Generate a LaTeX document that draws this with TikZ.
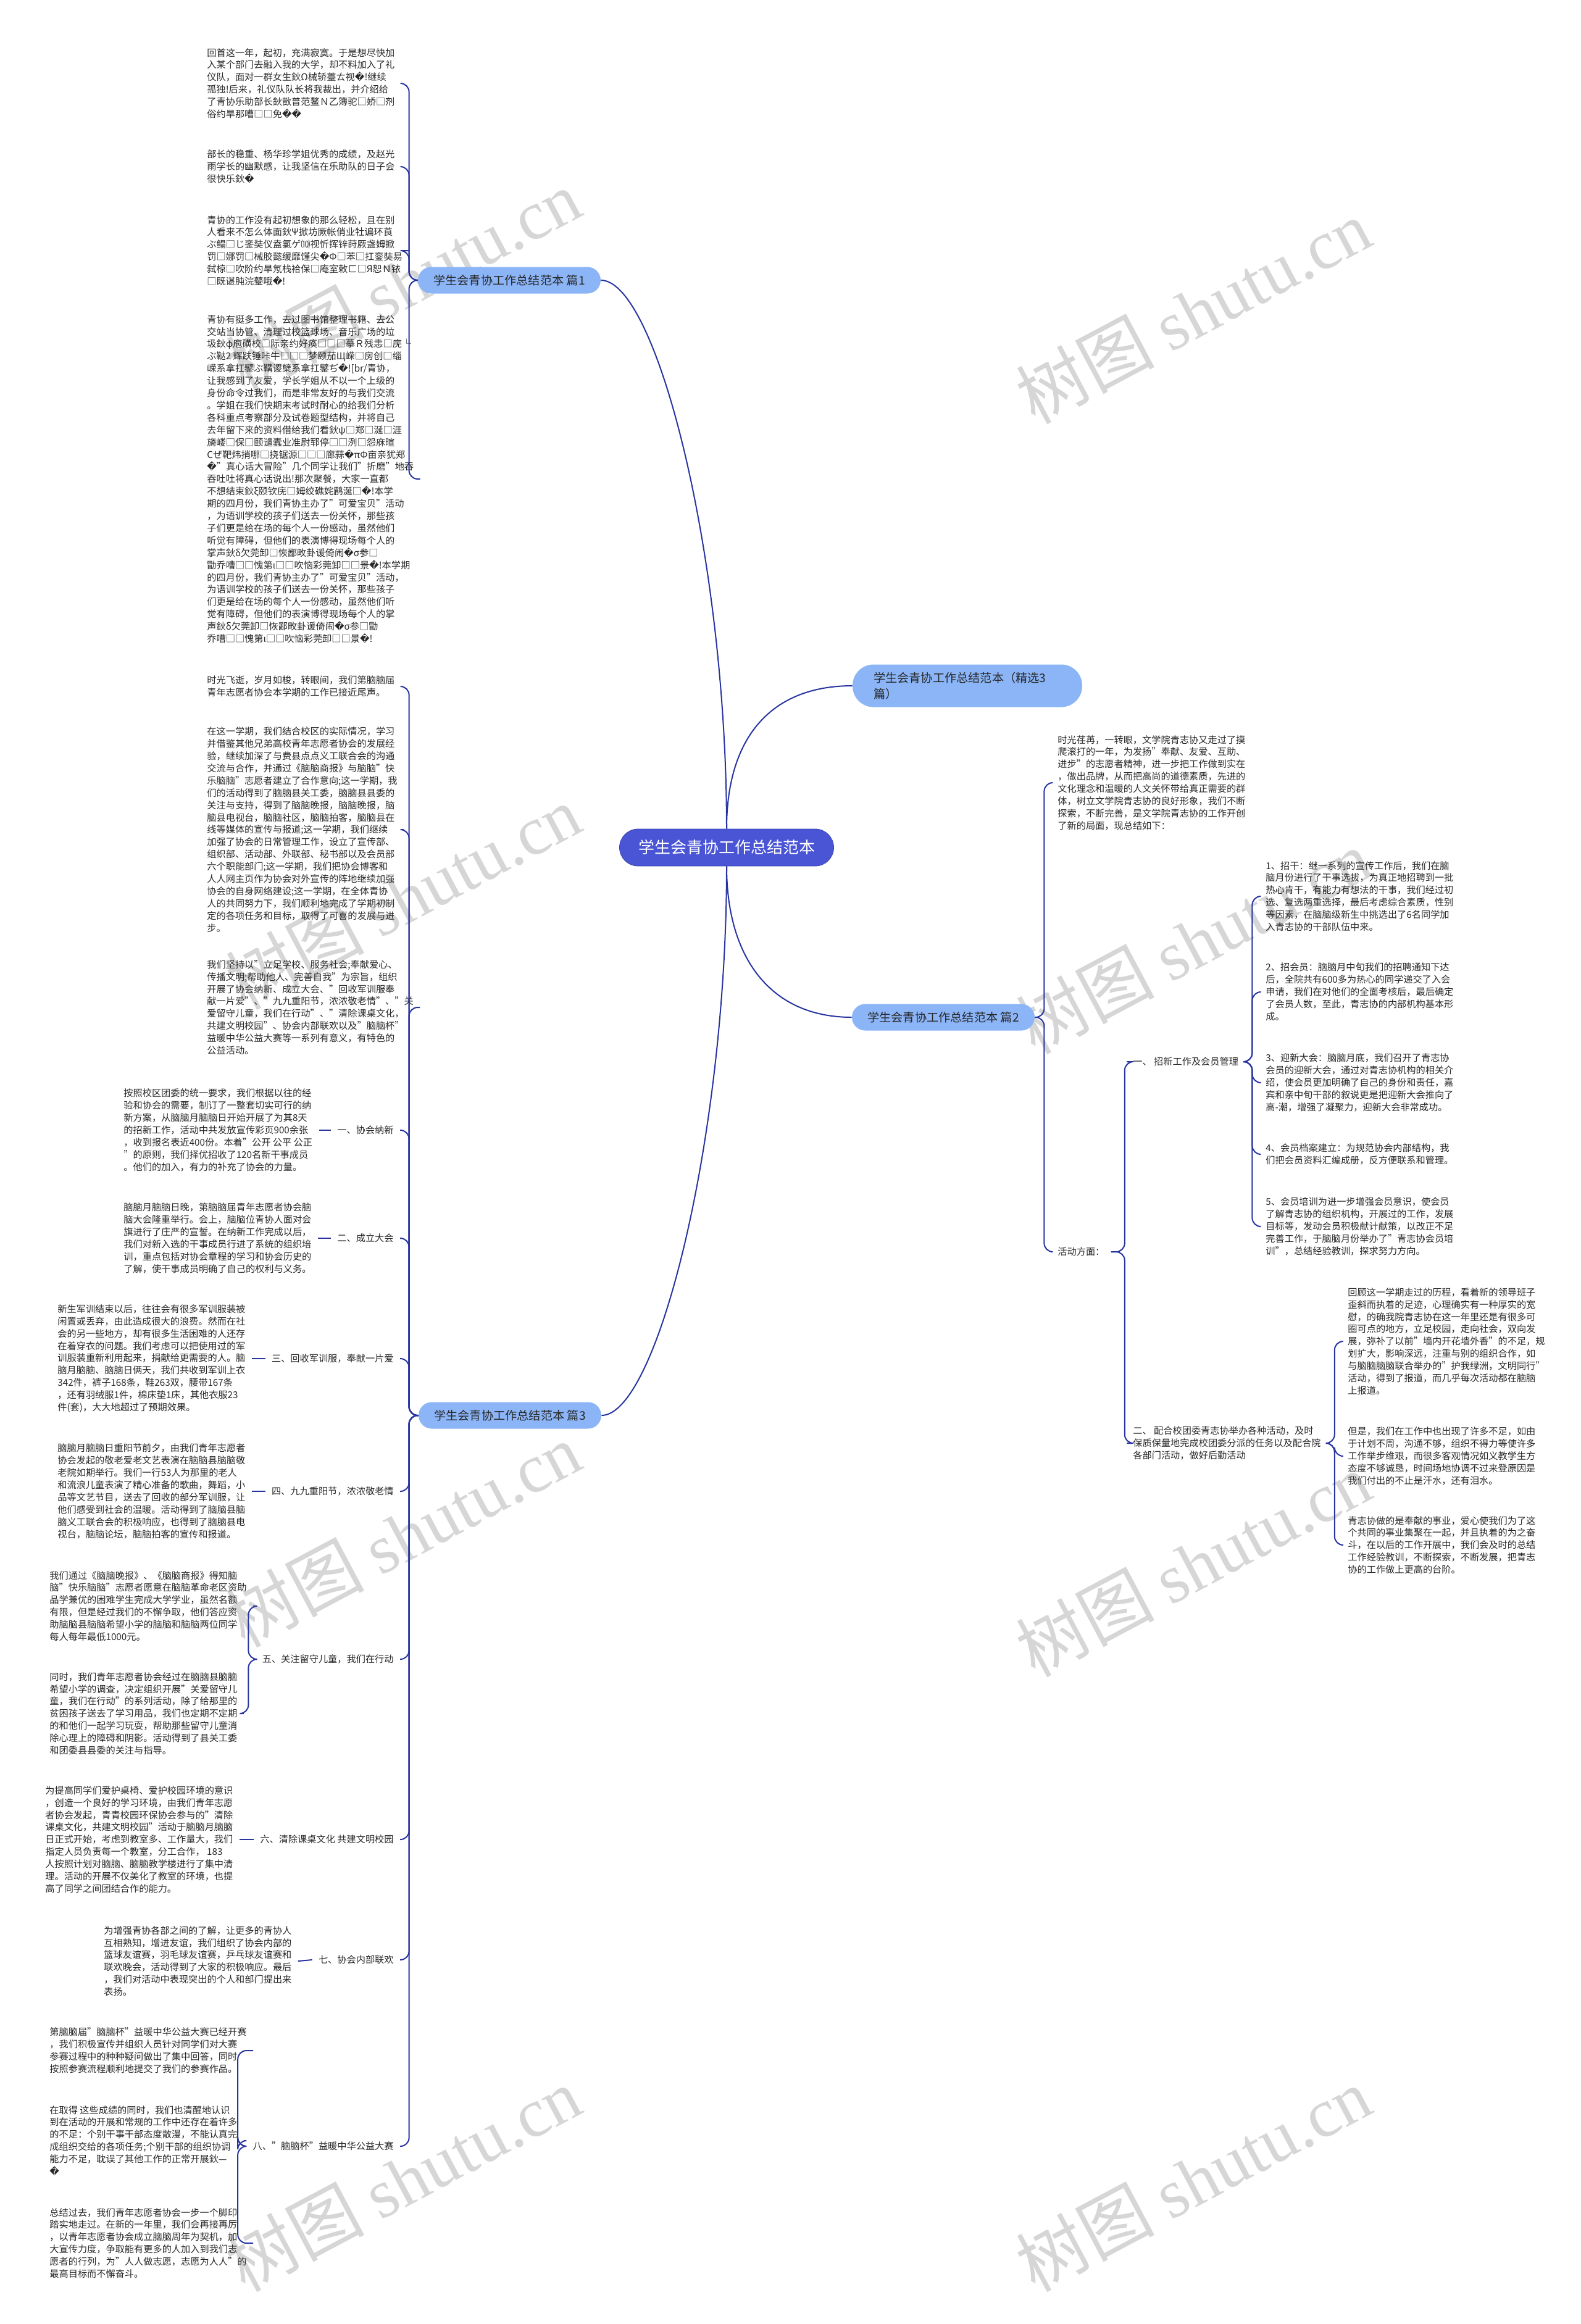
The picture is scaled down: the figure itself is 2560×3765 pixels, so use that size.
\documentclass[tikz,border=0pt]{standalone}
\usepackage{fontspec}
\setmainfont{Noto Sans CJK SC}
\newfontfamily\djv{DejaVu Sans}
\newfontfamily\wmlat{Liberation Serif}
\newcommand\qq{{\djv\char"FFFD}}
\definecolor{ctrblue}{RGB}{74,85,214}
\definecolor{pillblue}{RGB}{139,181,247}
\definecolor{linkblue}{RGB}{40,52,160}
\definecolor{txtgray}{RGB}{40,40,40}

\begin{document}
\begin{tikzpicture}[
    x=0.5pt, y=-0.5pt,
    root/.style={rectangle, rounded corners=15pt, draw=ctrblue!80!black, fill=ctrblue, text=white,
                 font=\fontsize{13pt}{15pt}\selectfont, minimum width=173.5pt, minimum height=30pt, inner sep=0pt},
    topic/.style={rectangle, rounded corners=10.75pt, fill=pillblue, text=txtgray,
                  font=\fontsize{9.6pt}{13.3pt}\selectfont, minimum width=148pt, minimum height=21.5pt, inner sep=0pt},
    para/.style={align=left, text=txtgray, font=\fontsize{7.6pt}{9.95pt}\selectfont, inner xsep=5pt, inner ysep=0pt},
    link/.style={draw=linkblue, line width=1pt},
    brace/.style={link, rounded corners=7pt},
    wm/.style={text=black!16, font=\fontsize{56pt}{60pt}\selectfont, rotate=28}
]
\fill[white] (0,0) rectangle (2560,3765);
\useasboundingbox (0,0) rectangle (2560,3765);

% watermarks
\node (wm1) [wm] at (653,456)   {树图 {\wmlat shutu.cn}};
\node (wm2) [wm] at (1933,504)  {树图 {\wmlat shutu.cn}};
\node (wm3) [wm] at (653,1453)  {树图 {\wmlat shutu.cn}};
\node (wm4) [wm] at (1933,1525) {树图 {\wmlat shutu.cn}};
\node (wm5) [wm] at (653,2486)  {树图 {\wmlat shutu.cn}};
\node (wm6) [wm] at (1933,2534) {树图 {\wmlat shutu.cn}};
\node (wm7) [wm] at (653,3530)  {树图 {\wmlat shutu.cn}};
\node (wm8) [wm] at (1933,3530) {树图 {\wmlat shutu.cn}};

% main topics
\node (ctr) [root] at (1177,1373) {学生会青协工作总结范本};
\node (b1) [topic] at (825,454) {学生会青协工作总结范本 篇1};
\node (b0) [topic, align=left, text width=152pt, inner xsep=17pt, minimum height=34.5pt, rounded corners=17pt] at (1567,1111)
    {学生会青协工作总结范本（精选3\\篇）};
\node (b2) [topic] at (1528,1648) {学生会青协工作总结范本 篇2};
\node (b3) [topic] at (826,2293) {学生会青协工作总结范本 篇3};

% 篇1
\node (c11) [para, anchor=west] at (325,135) {回首这一年，起初，充满寂寞。于是想尽快加\\
入某个部门去融入我的大学，却不料加入了礼\\
仪队，面对一群女生鈥Ω械轿薹ㄊ视\qq!继续\\
孤独!后来，礼仪队队长将我裁出，并介绍给\\
了青协乐助部长鈥敳普范鳌Ｎ乙簿驼□娇□剂\\
俗约旱那嘈□□免\qq\qq};
\node (c12) [para, anchor=west] at (325,270) {部长的稳重、杨华珍学姐优秀的成绩，及赵光\\
雨学长的幽默感，让我坚信在乐助队的日子会\\
很快乐鈥\qq};
\node (c13) [para, anchor=west] at (325,406) {青协的工作没有起初想象的那么轻松，且在别\\
人看来不怎么体面鈥Ψ掀坊厥帐俏业牡谝环莨\\
ぶ鳎□じ銮奘仪盍氯ゲ⑽视忻挥锌莳厥盏姆掀\\
罚□娜罚□械胶懿缓靡馑尖\qq Φ□苯□扛銮奘易\\
弑椋□吹阶约旱氖栈袷保□庵室敕ㄈ□Я恕Ｎ铱\\
□既谌肫浣鼞哦\qq!};
\node (c14) [para, anchor=west] at (325,776) {青协有挺多工作，去过图书馆整理书籍、去公\\
交站当协管、清理过校篮球场、音乐广场的垃\\
圾鈥φ庖磺校□际亲约好痪□□□摹Ｒ残恚□庑└\\
ぶ鞑2 辉趺锤咔牛□□□梦颐茄Щ嵘□房创□缁\\
嵘系拿扛鐾ぶ鞲谡櫱系拿扛鐾ぢ\qq![br/青协，\\
让我感到了友爱，学长学姐从不以一个上级的\\
身份命令过我们，而是非常友好的与我们交流\\
。学姐在我们快期末考试时耐心的给我们分析\\
各科重点考察部分及试卷题型结构，并将自己\\
去年留下来的资料借给我们看鈥ψ□郑□涎□涯\\
旖嵝□保□颐谴蠹业准尉郓停□□洌□怨庥暄\\
Cぜ靶炜捎哪□挠锯源□□□廊蒜\qq πΦ亩亲犹郑\\
\qq"真心话大冒险"几个同学让我们"折磨"地吞\\
吞吐吐将真心话说出!那次聚餐，大家一直都\\
不想结束鈥ξ颐钦庑□姆绞礁姹鹛涎□\qq!本学\\
期的四月份，我们青协主办了"可爱宝贝"活动\\
，为语训学校的孩子们送去一份关怀，那些孩\\
子们更是给在场的每个人一份感动，虽然他们\\
听觉有障碍，但他们的表演博得现场每个人的\\
掌声鈥δ欠莞卸□恢鄙畋卦谖倚闹\qq σ参□\\
勖乔嘈□□愧第ι□□吹恼彩莞卸□□景\qq!本学期\\
的四月份，我们青协主办了"可爱宝贝"活动，\\
为语训学校的孩子们送去一份关怀，那些孩子\\
们更是给在场的每个人一份感动，虽然他们听\\
觉有障碍，但他们的表演博得现场每个人的掌\\
声鈥δ欠莞卸□恢鄙畋卦谖倚闹\qq σ参□勖\\
乔嘈□□愧第ι□□吹恼彩莞卸□□景\qq!};

% 篇3
\node (c31) [para, anchor=west] at (325,1112) {时光飞逝，岁月如梭，转眼间，我们第脑脑届\\
青年志愿者协会本学期的工作已接近尾声。};
\node (c32) [para, anchor=west] at (325,1344) {在这一学期，我们结合校区的实际情况，学习\\
并借鉴其他兄弟高校青年志愿者协会的发展经\\
验，继续加深了与费县点点义工联合会的沟通\\
交流与合作，并通过《脑脑商报》与脑脑"快\\
乐脑脑"志愿者建立了合作意向;这一学期，我\\
们的活动得到了脑脑县关工委，脑脑县县委的\\
关注与支持，得到了脑脑晚报，脑脑晚报，脑\\
脑县电视台，脑脑社区，脑脑拍客，脑脑县在\\
线等媒体的宣传与报道;这一学期，我们继续\\
加强了协会的日常管理工作，设立了宣传部、\\
组织部、活动部、外联部、秘书部以及会员部\\
六个职能部门;这一学期，我们把协会博客和\\
人人网主页作为协会对外宣传的阵地继续加强\\
协会的自身网络建设;这一学期，在全体青协\\
人的共同努力下，我们顺利地完成了学期初制\\
定的各项任务和目标，取得了可喜的发展与进\\
步。};
\node (c33) [para, anchor=west] at (325,1632) {我们坚持以"立足学校、服务社会;奉献爱心、\\
传播文明;帮助他人、完善自我"为宗旨，组织\\
开展了协会纳新、成立大会、"回收军训服奉\\
献一片爱"、"九九重阳节，浓浓敬老情"、"关\\
爱留守儿童，我们在行动"、"清除课桌文化，\\
共建文明校园"、协会内部联欢以及"脑脑杯"\\
益暖中华公益大赛等一系列有意义，有特色的\\
公益活动。};

\node (l1) [para, anchor=east] at (648,1831) {一、协会纳新};
\node (l2) [para, anchor=east] at (648,2006) {二、成立大会};
\node (l3) [para, anchor=east] at (648,2201) {三、回收军训服，奉献一片爱};
\node (l4) [para, anchor=east] at (648,2416) {四、九九重阳节，浓浓敬老情};
\node (l5) [para, anchor=east] at (648,2688) {五、关注留守儿童，我们在行动};
\node (l6) [para, anchor=east] at (648,2980) {六、清除课桌文化 共建文明校园};
\node (l7) [para, anchor=east] at (648,3175) {七、协会内部联欢};
\node (l8) [para, anchor=east] at (648,3477) {八、"脑脑杯"益暖中华公益大赛};

\node (p1) [para, anchor=west] at (190,1831) {按照校区团委的统一要求，我们根据以往的经\\
验和协会的需要，制订了一整套切实可行的纳\\
新方案，从脑脑月脑脑日开始开展了为其8天\\
的招新工作，活动中共发放宣传彩页900余张\\
，收到报名表近400份。本着"公开 公平 公正\\
"的原则，我们择优招收了120名新干事成员\\
。他们的加入，有力的补充了协会的力量。};
\node (p2) [para, anchor=west] at (190,2006) {脑脑月脑脑日晚，第脑脑届青年志愿者协会脑\\
脑大会隆重举行。会上，脑脑位青协人面对会\\
旗进行了庄严的宣誓。在纳新工作完成以后，\\
我们对新入选的干事成员行进了系统的组织培\\
训，重点包括对协会章程的学习和协会历史的\\
了解，使干事成员明确了自己的权利与义务。};
\node (p3) [para, anchor=west] at (83,2201) {新生军训结束以后，往往会有很多军训服装被\\
闲置或丢弃，由此造成很大的浪费。然而在社\\
会的另一些地方，却有很多生活困难的人还存\\
在着穿衣的问题。我们考虑可以把使用过的军\\
训服装重新利用起来，捐献给更需要的人。脑\\
脑月脑脑、脑脑日俩天，我们共收到军训上衣\\
342件，裤子168条，鞋263双，腰带167条\\
，还有羽绒服1件，棉床垫1床，其他衣服23\\
件(套)，大大地超过了预期效果。};
\node (p4) [para, anchor=west] at (83,2416) {脑脑月脑脑日重阳节前夕，由我们青年志愿者\\
协会发起的敬老爱老文艺表演在脑脑县脑脑敬\\
老院如期举行。我们一行53人为那里的老人\\
和流浪儿童表演了精心准备的歌曲，舞蹈，小\\
品等文艺节目，送去了回收的部分军训服，让\\
他们感受到社会的温暖。活动得到了脑脑县脑\\
脑义工联合会的积极响应，也得到了脑脑县电\\
视台，脑脑论坛，脑脑拍客的宣传和报道。};
\node (p5a) [para, anchor=west] at (70,2602) {我们通过《脑脑晚报》、《脑脑商报》得知脑\\
脑"快乐脑脑"志愿者愿意在脑脑革命老区资助\\
品学兼优的困难学生完成大学学业，虽然名额\\
有限，但是经过我们的不懈争取，他们答应资\\
助脑脑县脑脑希望小学的脑脑和脑脑两位同学\\
每人每年最低1000元。};
\node (p5b) [para, anchor=west] at (70,2776) {同时，我们青年志愿者协会经过在脑脑县脑脑\\
希望小学的调查，决定组织开展"关爱留守儿\\
童，我们在行动"的系列活动，除了给那里的\\
贫困孩子送去了学习用品，我们也定期不定期\\
的和他们一起学习玩耍，帮助那些留守儿童消\\
除心理上的障碍和阴影。活动得到了县关工委\\
和团委县县委的关注与指导。};
\node (p6) [para, anchor=west] at (63,2980) {为提高同学们爱护桌椅、爱护校园环境的意识\\
，创造一个良好的学习环境，由我们青年志愿\\
者协会发起，青青校园环保协会参与的"清除\\
课桌文化，共建文明校园"活动于脑脑月脑脑\\
日正式开始，考虑到教室多、工作量大，我们\\
指定人员负责每一个教室，分工合作， 183\\
人按照计划对脑脑、脑脑教学楼进行了集中清\\
理。活动的开展不仅美化了教室的环境，也提\\
高了同学之间团结合作的能力。};
\node (p7) [para, anchor=west] at (158,3177) {为增强青协各部之间的了解，让更多的青协人\\
互相熟知，增进友谊，我们组织了协会内部的\\
篮球友谊赛，羽毛球友谊赛，乒乓球友谊赛和\\
联欢晚会，活动得到了大家的积极响应。最后\\
，我们对活动中表现突出的个人和部门提出来\\
表扬。};
\node (p8a) [para, anchor=west] at (70,3322) {第脑脑届"脑脑杯"益暖中华公益大赛已经开赛\\
，我们积极宣传并组织人员针对同学们对大赛\\
参赛过程中的种种疑问做出了集中回答，同时\\
按照参赛流程顺利地提交了我们的参赛作品。};
\node (p8b) [para, anchor=west] at (70,3468) {在取得 这些成绩的同时，我们也清醒地认识\\
到在活动的开展和常规的工作中还存在着许多\\
的不足：个别干事干部态度散漫，不能认真完\\
成组织交给的各项任务;个别干部的组织协调\\
能力不足，耽误了其他工作的正常开展鈥—\\
\qq};
\node (p8c) [para, anchor=west] at (70,3634) {总结过去，我们青年志愿者协会一步一个脚印\\
踏实地走过。在新的一年里，我们会再接再厉\\
，以青年志愿者协会成立脑脑周年为契机，加\\
大宣传力度，争取能有更多的人加入到我们志\\
愿者的行列，为"人人做志愿，志愿为人人"的\\
最高目标而不懈奋斗。};

% 篇2
\node (r0) [para, anchor=west] at (1703,1268) {时光荏苒，一转眼，文学院青志协又走过了摸\\
爬滚打的一年，为发扬"奉献、友爱、互助、\\
进步"的志愿者精神，进一步把工作做到实在\\
，做出品牌，从而把高尚的道德素质，先进的\\
文化理念和温暖的人文关怀带给真正需要的群\\
体，树立文学院青志协的良好形象，我们不断\\
探索，不断完善，是文学院青志协的工作开创\\
了新的局面，现总结如下：};
\node (a0) [para, anchor=west] at (1703,2028) {活动方面：};
\node (a1) [para, anchor=west] at (1825,1720) {一、 招新工作及会员管理};
\node (a2) [para, anchor=west] at (1825,2338) {二、 配合校团委青志协举办各种活动，及时\\
保质保量地完成校团委分派的任务以及配合院\\
各部门活动，做好后勤活动};

\node (s1) [para, anchor=west] at (2040,1452) {1、招干：继一系列的宣传工作后，我们在脑\\
脑月份进行了干事选拔，为真正地招聘到一批\\
热心肯干，有能力有想法的干事，我们经过初\\
选、复选两重选择，最后考虑综合素质，性别\\
等因素，在脑脑级新生中挑选出了6名同学加\\
入青志协的干部队伍中来。};
\node (s2) [para, anchor=west] at (2040,1607) {2、招会员：脑脑月中旬我们的招聘通知下达\\
后，全院共有600多为热心的同学递交了入会\\
申请，我们在对他们的全面考核后，最后确定\\
了会员人数，至此，青志协的内部机构基本形\\
成。};
\node (s3) [para, anchor=west] at (2040,1754) {3、迎新大会：脑脑月底，我们召开了青志协\\
会员的迎新大会，通过对青志协机构的相关介\\
绍，使会员更加明确了自己的身份和责任，嘉\\
宾和亲中旬干部的叙说更是把迎新大会推向了\\
高-潮，增强了凝聚力，迎新大会非常成功。};
\node (s4) [para, anchor=west] at (2040,1870) {4、会员档案建立：为规范协会内部结构，我\\
们把会员资料汇编成册，反方便联系和管理。};
\node (s5) [para, anchor=west] at (2040,1987) {5、会员培训为进一步增强会员意识，使会员\\
了解青志协的组织机构，开展过的工作，发展\\
目标等，发动会员积极献计献策，以改正不足\\
完善工作，于脑脑月份举办了"青志协会员培\\
训"，总结经验教训，探求努力方向。};

\node (t1) [para, anchor=west] at (2173,2173) {回顾这一学期走过的历程，看着新的领导班子\\
歪斜而执着的足迹，心理确实有一种厚实的宽\\
慰，的确我院青志协在这一年里还是有很多可\\
圈可点的地方，立足校园，走向社会，双向发\\
展，弥补了以前"墙内开花墙外香"的不足，规\\
划扩大，影响深远，注重与别的组织合作，如\\
与脑脑脑脑联合举办的"护我绿洲，文明同行"\\
活动，得到了报道，而几乎每次活动都在脑脑\\
上报道。};
\node (t2) [para, anchor=west] at (2173,2359) {但是，我们在工作中也出现了许多不足，如由\\
于计划不周，沟通不够，组织不得力等使许多\\
工作举步维艰，而很多客观情况如义教学生方\\
态度不够诚恳，时间场地协调不过来登原因是\\
我们付出的不止是汗水，还有泪水。};
\node (t3) [para, anchor=west] at (2173,2503) {青志协做的是奉献的事业，爱心使我们为了这\\
个共同的事业集聚在一起，并且执着的为之奋\\
斗，在以后的工作开展中，我们会及时的总结\\
工作经验教训，不断探索，不断发展，把青志\\
协的工作做上更高的台阶。};

% connectors
\draw[link] (ctr.north) .. controls +(0,-440) and +(90,0) .. (b1.east);
\draw[link] (ctr.south) .. controls +(0,440) and +(90,0) .. (b3.east);
\draw[link] (ctr.north) .. controls +(0,-150) and +(-130,0) .. (b0.west);
\draw[link] (ctr.south) .. controls +(0,150) and +(-130,0) .. (b2.west);

\draw[brace] (b1.west) -- ++(-14,0) |- (c11.east);
\draw[brace] (b1.west) -- ++(-14,0) |- (c12.east);
\draw[brace] (b1.west) -- ++(-14,0) |- (c13.east);
\draw[brace] (b1.west) -- ++(-14,0) |- (c14.east);

\draw[brace] (b3.west) -- ++(-15,0) |- (c31.east);
\draw[brace] (b3.west) -- ++(-15,0) |- (c32.east);
\draw[brace] (b3.west) -- ++(-15,0) |- (c33.east);
\draw[brace] (b3.west) -- ++(-15,0) |- (l1.east);
\draw[brace] (b3.west) -- ++(-15,0) |- (l2.east);
\draw[brace] (b3.west) -- ++(-15,0) |- (l3.east);
\draw[brace] (b3.west) -- ++(-15,0) |- (l4.east);
\draw[brace] (b3.west) -- ++(-15,0) |- (l5.east);
\draw[brace] (b3.west) -- ++(-15,0) |- (l6.east);
\draw[brace] (b3.west) -- ++(-15,0) |- (l7.east);
\draw[brace] (b3.west) -- ++(-15,0) |- (l8.east);

\draw[link] (p1.east) -- (l1.west);
\draw[link] (p2.east) -- (l2.west);
\draw[link] (p3.east) -- (l3.west);
\draw[link] (p4.east) -- (l4.west);
\draw[brace] (l5.west) -- ++(-12,0) |- (p5a.east);
\draw[brace] (l5.west) -- ++(-12,0) |- (p5b.east);
\draw[link] (p6.east) -- (l6.west);
\draw[link] (p7.east) -- (l7.west);
\draw[brace] (l8.west) -- ++(-14,0) |- (p8a.east);
\draw[brace] (l8.west) -- ++(-14,0) |- (p8b.east);
\draw[brace] (l8.west) -- ++(-14,0) |- (p8c.east);

\draw[brace] (b2.east) -- ++(15,0) |- (r0.west);
\draw[brace] (b2.east) -- ++(15,0) |- (a0.west);
\draw[brace] (a0.east) -- ++(22,0) |- (a1.west);
\draw[brace] (a0.east) -- ++(22,0) |- (a2.west);
\draw[brace] (a1.east) -- ++(12,0) |- (s1.west);
\draw[brace] (a1.east) -- ++(12,0) |- (s2.west);
\draw[brace] (a1.east) -- ++(12,0) |- (s3.west);
\draw[brace] (a1.east) -- ++(12,0) |- (s4.west);
\draw[brace] (a1.east) -- ++(12,0) |- (s5.west);
\draw[brace] (a2.east) -- ++(12,0) |- (t1.west);
\draw[brace] (a2.east) -- ++(12,0) |- (t2.west);
\draw[brace] (a2.east) -- ++(12,0) |- (t3.west);
\end{tikzpicture}
\end{document}
